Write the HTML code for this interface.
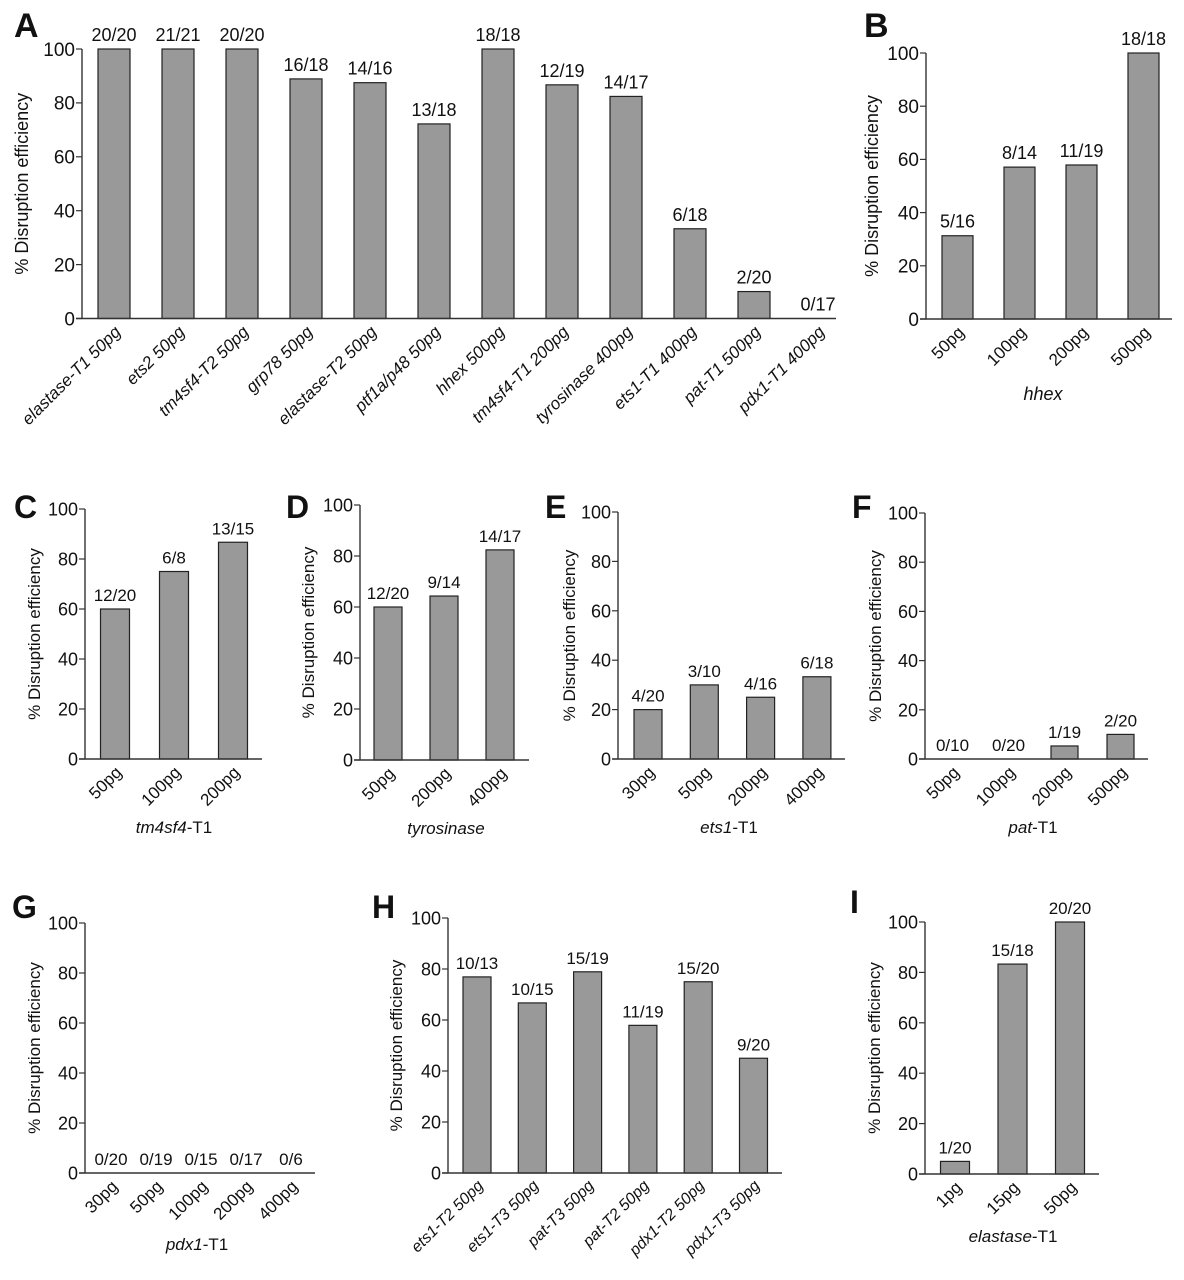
<!DOCTYPE html>
<html><head><meta charset="utf-8">
<style>
html,body{margin:0;padding:0;background:#fff;}
svg{display:block;font-family:"Liberation Sans",Arial,sans-serif;}
</style></head>
<body>
<svg id="fig" width="1184" height="1280" viewBox="0 0 1184 1280" xmlns="http://www.w3.org/2000/svg"></svg>
<script>
// ---- data ----
const aCats = ["elastase-T1 50pg","ets2 50pg","tm4sf4-T2 50pg","grp78 50pg","elastase-T2 50pg","ptf1a/p48 50pg","hhex 500pg","tm4sf4-T1 200pg","tyrosinase 400pg","ets1-T1 400pg","pat-T1 500pg","pdx1-T1 400pg"];
const aVals = [100,100,100,88.9,87.5,72.2,100,86.7,82.4,33.3,10,0];
const aLabels = ["20/20","21/21","20/20","16/18","14/16","13/18","18/18","12/19","14/17","6/18","2/20","0/17"];
const bCats = ["50pg","100pg","200pg","500pg"];
const bVals = [31.3,57.1,57.9,100];
const bLabels = ["5/16","8/14","11/19","18/18"];
const cCats = ["50pg","100pg","200pg"];
const cVals = [60,75,86.7];
const cLabels = ["12/20","6/8","13/15"];
const dCats = ["50pg","200pg","400pg"];
const dVals = [60,64.3,82.4];
const dLabels = ["12/20","9/14","14/17"];
const eCats = ["30pg","50pg","200pg","400pg"];
const eVals = [20,30,25,33.3];
const eLabels = ["4/20","3/10","4/16","6/18"];
const fCats = ["50pg","100pg","200pg","500pg"];
const fVals = [0,0,5.3,10];
const fLabels = ["0/10","0/20","1/19","2/20"];
const gCats = ["30pg","50pg","100pg","200pg","400pg"];
const gVals = [0,0,0,0,0];
const gLabels = ["0/20","0/19","0/15","0/17","0/6"];
const hCats = ["ets1-T2 50pg","ets1-T3 50pg","pat-T3 50pg","pat-T2 50pg","pdx1-T2 50pg","pdx1-T3 50pg"];
const hVals = [76.9,66.7,78.9,57.9,75,45];
const hLabels = ["10/13","10/15","15/19","11/19","15/20","9/20"];
const iCats = ["1pg","15pg","50pg"];
const iVals = [5,83.3,100];
const iLabels = ["1/20","15/18","20/20"];
const yTicks = [0,20,40,60,80,100];

const NS = "http://www.w3.org/2000/svg";
const svg = document.getElementById('fig');
function mk(tag, attrs, parent, text){
  const e = document.createElementNS(NS, tag);
  for (const k in attrs) e.setAttribute(k, attrs[k]);
  if (text !== undefined) e.textContent = text;
  (parent||svg).appendChild(e);
  return e;
}

function panel(p){
  const g = mk('g', {});
  
  
  const yS = v => p.y0 - (p.y0 - p.y100) * v / 100;
  const xS = i => p.c0 + p.step * i;
  const L = mk('text', {x:p.lx, y:p.ly, 'font-size':p.lsize||32, 'font-weight':'bold', fill:'#111'}, g, p.id);
  
  
  p.vals.forEach((v,i)=>{
    const cx = xS(i);
    if (v > 0){
      const r = mk('rect', {x:cx-p.bw/2, y:yS(v), width:p.bw, height:p.y0-yS(v), fill:'#999', stroke:'#222', 'stroke-width':1.2}, g);
      
      
    }
    const t = mk('text', {x:cx, y:yS(v)-8, 'text-anchor':'middle', 'font-size':p.fs, fill:'#111'}, g, p.labels[i]);
    
    
    const ax = cx + p.cfs*0.45, ay = p.y0 + p.cfs*0.85;
    const cl = mk('text', {x:ax, y:ay, 'text-anchor':'end', 'font-size':p.cfs, fill:'#111', 'font-style':p.catItalic?'italic':'normal', transform:'rotate(-45 '+ax+' '+ay+')'}, g, p.cats[i]);
    
    
  });
  const ya = mk('line', {x1:p.ax, y1:p.y100, x2:p.ax, y2:p.y0, stroke:'#333', 'stroke-width':1.4}, g);
  
  
  const xa = mk('line', {x1:p.ax-6, y1:p.y0, x2:p.xend, y2:p.y0, stroke:'#333', 'stroke-width':1.4}, g);
  
  
  yTicks.forEach(v=>{
    const y = yS(v);
    mk('line', {x1:p.ax-6, y1:y, x2:p.ax, y2:y, stroke:'#333', 'stroke-width':1.2}, g);
    const t = mk('text', {x:p.ax-7, y:y+p.tfs*0.36, 'text-anchor':'end', 'font-size':p.tfs, fill:'#111'}, g, String(v));
    
    
  });
  const ymid = (p.y0 + p.y100)/2;
  const yl = mk('text', {x:p.ylx, y:ymid, 'text-anchor':'middle', 'font-size':p.yfs, fill:'#111', transform:'rotate(-90 '+p.ylx+' '+ymid+')'}, g, '% Disruption efficiency');
  
  
  if (p.title){
    const tt = mk('text', {x:p.tx, y:p.ty, 'text-anchor':'middle', 'font-size':p.fs, fill:'#111'}, g);
    
    
    mk('tspan', {'font-style':'italic'}, tt, p.title[0]);
    if (p.title[1]) mk('tspan', {}, tt, p.title[1]);
  }
}

panel({id:'A', cats:aCats, vals:aVals, labels:aLabels, ax:82, y0:318.5, y100:49, c0:114, step:64, bw:32, xend:836, fs:18, tfs:19, cfs:17, yfs:18, ylx:28, lx:14, ly:37, lsize:34, catItalic:true});
panel({id:'B', cats:bCats, vals:bVals, labels:bLabels, ax:926, y0:319, y100:53, c0:957.5, step:62, bw:31, xend:1172, fs:18, tfs:19, cfs:17, yfs:18, ylx:878, lx:864, ly:37, lsize:34, title:['hhex',''], tx:1043, ty:400});
panel({id:'C', cats:cCats, vals:cVals, labels:cLabels, ax:85, y0:759, y100:509, c0:115, step:59, bw:29, xend:262, fs:17, tfs:18, cfs:17, yfs:17, ylx:40, lx:14, ly:518, title:['tm4sf4','-T1'], tx:174, ty:833});
panel({id:'D', cats:dCats, vals:dVals, labels:dLabels, ax:360, y0:760, y100:505, c0:388, step:56, bw:28, xend:529, fs:17, tfs:18, cfs:17, yfs:17, ylx:314, lx:286, ly:518, title:['tyrosinase',''], tx:446, ty:834});
panel({id:'E', cats:eCats, vals:eVals, labels:eLabels, ax:618, y0:759, y100:512, c0:648, step:56.3, bw:28, xend:845, fs:17, tfs:18, cfs:17, yfs:17, ylx:575, lx:545, ly:518, title:['ets1','-T1'], tx:729, ty:833});
panel({id:'F', cats:fCats, vals:fVals, labels:fLabels, ax:925, y0:759, y100:513, c0:952.5, step:56, bw:27, xend:1148, fs:17, tfs:18, cfs:17, yfs:17, ylx:881, lx:852, ly:518, title:['pat','-T1'], tx:1033, ty:833});
panel({id:'G', cats:gCats, vals:gVals, labels:gLabels, ax:85, y0:1173, y100:923, c0:111, step:45, bw:28, xend:315, fs:17, tfs:18, cfs:17, yfs:17, ylx:40, lx:12, ly:918, title:['pdx1','-T1'], tx:197, ty:1250});
panel({id:'H', cats:hCats, vals:hVals, labels:hLabels, ax:448, y0:1173, y100:918, c0:477, step:55.3, bw:28, xend:782, fs:17, tfs:18, cfs:16, yfs:17, ylx:402, lx:372, ly:918, catItalic:true});
panel({id:'I', cats:iCats, vals:iVals, labels:iLabels, ax:925, y0:1174, y100:922, c0:955, step:57.5, bw:29, xend:1099, fs:17, tfs:18, cfs:17, yfs:17, ylx:880, lx:850, ly:913, title:['elastase','-T1'], tx:1013, ty:1242});
</script>
</body></html>
